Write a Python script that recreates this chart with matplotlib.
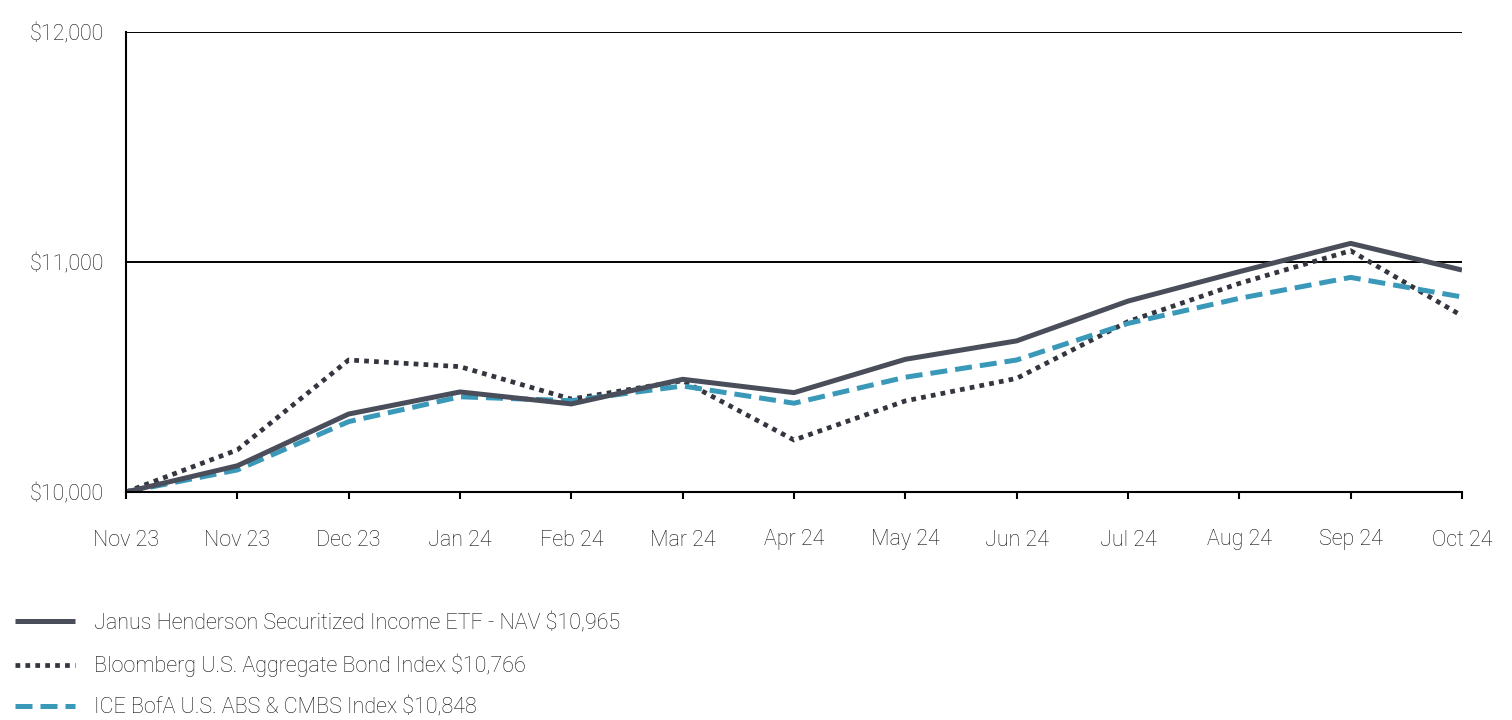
import matplotlib
matplotlib.use("Agg")
import matplotlib.pyplot as plt
from matplotlib.ticker import FuncFormatter

plt.rcParams['font.family'] = ['Roboto', 'DejaVu Sans']

months = ["Nov 23", "Nov 23", "Dec 23", "Jan 24", "Feb 24", "Mar 24", "Apr 24",
          "May 24", "Jun 24", "Jul 24", "Aug 24", "Sep 24", "Oct 24"]
nav = [10000, 10114, 10339, 10435, 10383, 10490, 10432, 10577, 10657, 10830, 10958, 11081, 10965]
bbg = [10000, 10183, 10574, 10545, 10404, 10484, 10226, 10396, 10494, 10741, 10907, 11049, 10766]
ice = [10000, 10096, 10306, 10414, 10397, 10461, 10386, 10499, 10574, 10733, 10842, 10933, 10848]
labels = ["Janus Henderson Securitized Income ETF - NAV $10,965",
          "Bloomberg U.S. Aggregate Bond Index $10,766",
          "ICE BofA U.S. ABS & CMBS Index $10,848"]
yticks = [10000, 11000, 12000]

fig = plt.figure(figsize=(15.12, 7.2), dpi=100)
ax = fig.add_axes([126/1512, 1-492/720, (1462-126)/1512, (492-32)/720])

x = list(range(len(months)))
l1, = ax.plot(x, nav, color="#4a4d5a", lw=3.6, solid_capstyle='butt', zorder=4)
l2, = ax.plot(x, bbg, color="#33353f", lw=3.4, linestyle=(0, (1, 1.1)), zorder=3)
l3, = ax.plot(x, ice, color="#3a98b9", lw=3.6, linestyle=(0, (3.4, 1.6)), zorder=3)

ax.set_xlim(0, len(months)-1)
ax.set_ylim(10000, 12000)
ax.set_xticks(x)
ax.set_xticklabels(months)
ax.set_yticks(yticks)
ax.yaxis.set_major_formatter(FuncFormatter(lambda v, p: f"${v:,.0f}"))
for y in yticks[1:]:
    ax.axhline(y, color="black", lw=1.4, zorder=1)

for s in ["top", "right"]:
    ax.spines[s].set_visible(False)
for s in ["left", "bottom"]:
    ax.spines[s].set_linewidth(1.5)
    ax.spines[s].set_color("black")
    ax.spines[s].set_zorder(5)

ax.tick_params(axis='x', length=5, width=1.5, pad=22, labelsize=15.5, colors='black', labelcolor='#111111')
ax.tick_params(axis='y', length=0, pad=16, labelsize=15.5, labelcolor='#111111')
for t in ax.get_xticklabels() + ax.get_yticklabels():
    t.set_fontweight('light')

leg = fig.legend([l1, l2, l3], labels, loc='upper left', bbox_to_anchor=(15/1512, 1-613/720),
                 frameon=False, fontsize=15.5, handlelength=2.8, handletextpad=0.85,
                 labelspacing=0.92, borderaxespad=0, borderpad=0)
for t in leg.get_texts():
    t.set_fontweight('light')
    t.set_color('#111111')

fig.savefig("out.png", dpi=100)
